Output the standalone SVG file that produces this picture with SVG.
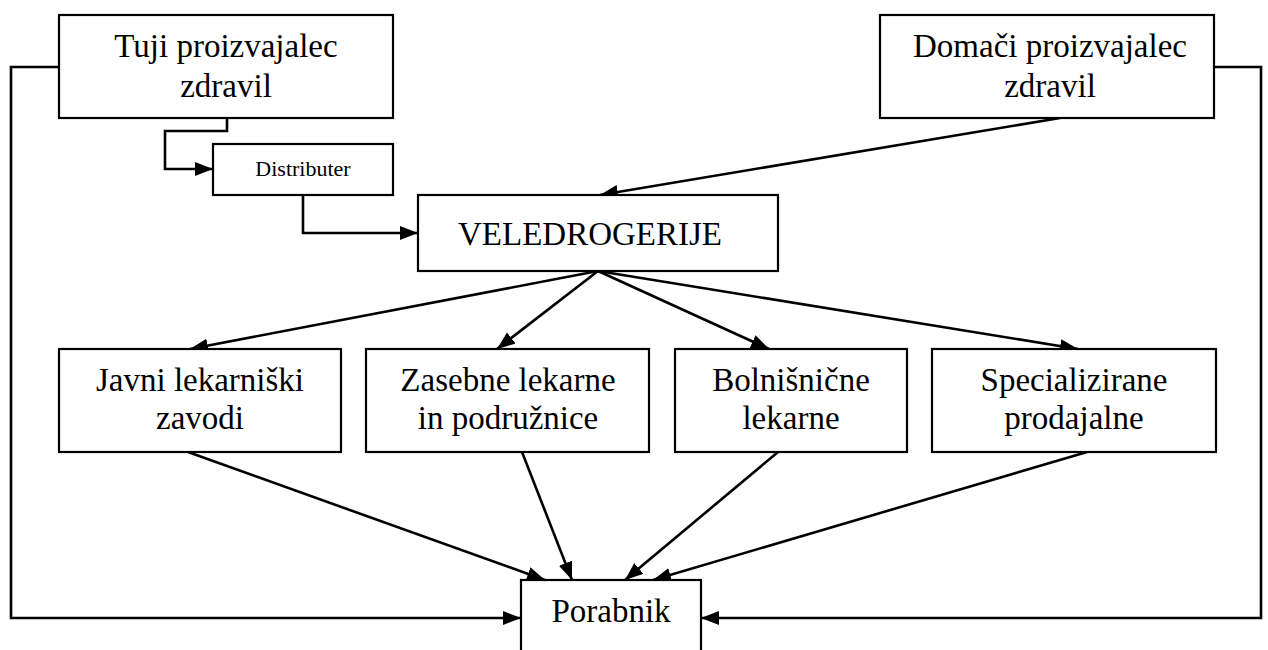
<svg xmlns="http://www.w3.org/2000/svg" width="1268" height="650" viewBox="0 0 1268 650">
<style>
.box{fill:#fff;stroke:#000;stroke-width:2.2}
.t{font-family:"Liberation Serif","Times New Roman","DejaVu Serif",serif;font-size:33px;fill:#000;text-anchor:middle}
.s{font-size:22px}
.c{fill:none;stroke:#000;stroke-width:2.6}
</style>
<defs>
<marker id="ah" markerUnits="userSpaceOnUse" markerWidth="20" markerHeight="16" refX="18" refY="7" orient="auto">
<path d="M0,0 L18,7 L0,14 z" fill="#000"/>
</marker>
</defs>
<rect width="1268" height="650" fill="#fff"/>
<g id="connectors">
<polyline class="c" points="59,67 11,67 11,618 521,618" marker-end="url(#ah)"/>
<polyline class="c" points="1214,67 1261,67 1261,618 701,618" marker-end="url(#ah)"/>
<polyline class="c" points="227,118 227,131 165,131 165,169 213,169" marker-end="url(#ah)"/>
<polyline class="c" points="303,195 303,233 418,233" marker-end="url(#ah)"/>
<line class="c" x1="1060" y1="118" x2="600" y2="195" marker-end="url(#ah)"/>
<line class="c" x1="598" y1="271" x2="190" y2="349" marker-end="url(#ah)"/>
<line class="c" x1="598" y1="271" x2="497" y2="349" marker-end="url(#ah)"/>
<line class="c" x1="598" y1="271" x2="769" y2="349" marker-end="url(#ah)"/>
<line class="c" x1="598" y1="271" x2="1078" y2="349" marker-end="url(#ah)"/>
<line class="c" x1="188" y1="452" x2="545" y2="580" marker-end="url(#ah)"/>
<line class="c" x1="522" y1="452" x2="572" y2="580" marker-end="url(#ah)"/>
<line class="c" x1="778" y1="452" x2="625" y2="580" marker-end="url(#ah)"/>
<line class="c" x1="1087" y1="452" x2="653" y2="580" marker-end="url(#ah)"/>
</g>
<g id="tuji">
<rect class="box" x="59" y="15" width="334" height="103"/>
<text class="t" x="226" y="57">Tuji proizvajalec</text>
<text class="t" x="226" y="97">zdravil</text>
</g>
<g id="domaci">
<rect class="box" x="880" y="15" width="334" height="103"/>
<text class="t" x="1050" y="57">Domači proizvajalec</text>
<text class="t" x="1050" y="97">zdravil</text>
</g>
<g id="distributer">
<rect class="box" x="213" y="144" width="180" height="51"/>
<text class="t s" x="303" y="176">Distributer</text>
</g>
<g id="veledrogerije">
<rect class="box" x="418" y="195" width="360" height="76"/>
<text class="t" x="590" y="245">VELEDROGERIJE</text>
</g>
<g id="javni">
<rect class="box" x="59" y="349" width="282" height="103"/>
<text class="t" x="200" y="391">Javni lekarniški</text>
<text class="t" x="200" y="429">zavodi</text>
</g>
<g id="zasebne">
<rect class="box" x="366" y="349" width="283" height="103"/>
<text class="t" x="508" y="391">Zasebne lekarne</text>
<text class="t" x="508" y="429">in podružnice</text>
</g>
<g id="bolnisnicne">
<rect class="box" x="675" y="349" width="232" height="103"/>
<text class="t" x="791" y="391">Bolnišnične</text>
<text class="t" x="791" y="429">lekarne</text>
</g>
<g id="specializirane">
<rect class="box" x="932" y="349" width="284" height="103"/>
<text class="t" x="1074" y="391">Specializirane</text>
<text class="t" x="1074" y="429">prodajalne</text>
</g>
<g id="porabnik">
<rect class="box" x="521" y="580" width="180" height="90"/>
<text class="t" x="611" y="622">Porabnik</text>
</g>
</svg>
